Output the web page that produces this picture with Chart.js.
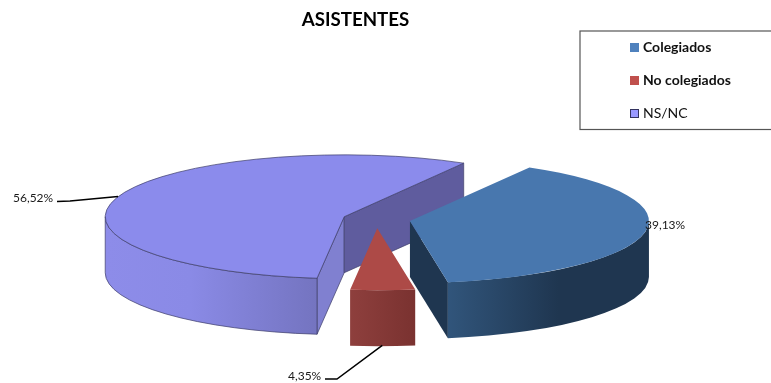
<!DOCTYPE html>
<html>
<head>
<meta charset="utf-8">
<title>ASISTENTES</title>
<style>
html, body { margin: 0; padding: 0; background: #fff; overflow: hidden; }
canvas { display: block; }
</style>
<script src="https://cdn.jsdelivr.net/npm/chart.js@4"></script>
</head>
<body>
<canvas id="chart" width="771" height="383"></canvas>
<script>
const chartTitle = 'ASISTENTES';
const categories = ['Colegiados', 'No colegiados', 'NS/NC'];
const shares = [39.13, 4.35, 56.52];

const topColors = ['#4877ae', '#ad4a47', '#8b8bec'];
const cutColors = ['#1f3650', '#7a3230', '#5f5c9e'];
const cutColorsStart = ['#1f3650', '#7a3230', '#8080d0'];
const wallStops = [
	[[0, '#31557b'], [0.55, '#1f3650'], [1, '#1f3650']],
	[[0, '#8e3f3d'], [1, '#7a3230']],
	[[0, '#8d8ce9'], [0.4, '#8a8ae6'], [1, '#7474c0']],
];
const legendColors = ['#4f81bd', '#c0504d', '#9999ff'];
const outlineColors = [null, null, '#3d3d68'];

const TILT = 0.259;      // ellipse height / width
const DEPTH = 56;        // height of the extruded wall
const EXPLODE = 34;      // how far each slice is pulled out
const FONT = 'Lato, "Noto Sans", sans-serif';

const fmt = v => v.toFixed(2).replace('.', ',') + '%';

function sliceCenter(arc) {
	const mid = (arc.startAngle + arc.endAngle) / 2;
	return {
		x: arc.x + Math.cos(mid) * EXPLODE,
		y: arc.y + Math.sin(mid) * EXPLODE * TILT,
	};
}

function wallPath(ctx, c, r, from, to) {
	ctx.beginPath();
	ctx.ellipse(c.x, c.y, r, r * TILT, 0, from, to);
	ctx.ellipse(c.x, c.y + DEPTH, r, r * TILT, 0, to, from, true);
	ctx.closePath();
}

function cutPath(ctx, c, r, angle) {
	const ex = c.x + Math.cos(angle) * r;
	const ey = c.y + Math.sin(angle) * r * TILT;
	ctx.beginPath();
	ctx.moveTo(c.x, c.y);
	ctx.lineTo(ex, ey);
	ctx.lineTo(ex, ey + DEPTH);
	ctx.lineTo(c.x, c.y + DEPTH);
	ctx.closePath();
}

function paintShape(ctx, fill, outline) {
	ctx.fillStyle = fill;
	ctx.fill();
	if (outline) {
		ctx.strokeStyle = outline;
		ctx.lineWidth = 0.7;
		ctx.stroke();
	}
}

function drawSlice(chart, arc, i) {
	const ctx = chart.ctx;
	const c = sliceCenter(arc);
	const r = arc.outerRadius;
	const a0 = arc.startAngle;
	const a1 = arc.endAngle;
	const outline = outlineColors[i];

	// flat cut faces, only those turned towards the viewer
	if (-Math.cos(a0) > 0) {
		cutPath(ctx, c, r, a0);
		paintShape(ctx, cutColorsStart[i], outline);
	}
	if (Math.cos(a1) > 0) {
		cutPath(ctx, c, r, a1);
		paintShape(ctx, cutColors[i], outline);
	}

	// outer wall: the part of the rim that lies on the front half
	const from = Math.max(a0, 0);
	const to = Math.min(a1, Math.PI);
	if (to > from) {
		const x0 = c.x + Math.cos(to) * r;
		const x1 = c.x + Math.cos(from) * r;
		const grad = ctx.createLinearGradient(x0 < x1 ? x0 : x1, 0, x0 < x1 ? x1 : x0, 0);
		wallStops[i].forEach(s => grad.addColorStop(s[0], s[1]));
		wallPath(ctx, c, r, from, to);
		paintShape(ctx, grad, outline);
	}

	// top face goes through the library's own arc element, squashed
	ctx.save();
	ctx.translate(c.x, c.y);
	ctx.scale(1, TILT);
	ctx.translate(-arc.x, -arc.y);
	arc.draw(ctx);
	ctx.restore();

	if (outline) {
		ctx.beginPath();
		ctx.moveTo(c.x, c.y);
		ctx.ellipse(c.x, c.y, r, r * TILT, 0, a0, a1);
		ctx.closePath();
		ctx.strokeStyle = outline;
		ctx.lineWidth = 0.7;
		ctx.stroke();
	}
}

function polyline(ctx, pts) {
	ctx.beginPath();
	pts.forEach((p, i) => i ? ctx.lineTo(p[0], p[1]) : ctx.moveTo(p[0], p[1]));
	ctx.strokeStyle = '#000';
	ctx.lineWidth = 1.5;
	ctx.stroke();
}

function drawLabels(ctx, arcs) {
	ctx.font = '12px ' + FONT;
	ctx.fillStyle = '#1a1a1a';
	ctx.textBaseline = 'middle';
	ctx.textAlign = 'left';

	ctx.fillText(fmt(shares[0]), 645, 225);

	const red = sliceCenter(arcs[1]);
	polyline(ctx, [[325, 379], [337, 379], [red.x + 5, red.y + 62 + DEPTH - 1]]);
	ctx.fillText(fmt(shares[1]), 288, 376);

	polyline(ctx, [[57, 201.5], [70, 201], [118, 196.5]]);
	ctx.fillText(fmt(shares[2]), 13, 198);
}

function drawLegend(ctx) {
	ctx.strokeStyle = '#555';
	ctx.lineWidth = 1.2;
	ctx.strokeRect(580, 31, 200, 98.5);
	ctx.textBaseline = 'middle';
	ctx.textAlign = 'left';
	categories.forEach((name, i) => {
		const y = 47.5 + i * 33;
		ctx.fillStyle = legendColors[i];
		ctx.fillRect(630, y - 4.5, 9, 9);
		if (i === 2) {
			ctx.strokeStyle = '#33335f';
			ctx.lineWidth = 1;
			ctx.strokeRect(630.5, y - 4, 8, 8);
		}
		ctx.fillStyle = '#111';
		ctx.font = (i < 2 ? 'bold ' : '') + '14px ' + FONT;
		ctx.fillText(name, 643, y);
	});
}

const pie3d = {
	id: 'pie3d',
	beforeDatasetsDraw(chart) {
		const arcs = chart.getDatasetMeta(0).data;
		// back to front
		[2, 0, 1].forEach(i => drawSlice(chart, arcs[i], i));
		return false;
	},
	afterDraw(chart) {
		const ctx = chart.ctx;
		drawLabels(ctx, chart.getDatasetMeta(0).data);
		drawLegend(ctx);
		ctx.fillStyle = '#000';
		ctx.font = 'bold 18.7px ' + FONT;
		ctx.textAlign = 'center';
		ctx.textBaseline = 'middle';
		ctx.fillText(chartTitle, 355.5, 20);
	},
};

new Chart(document.getElementById('chart').getContext('2d'), {
	type: 'pie',
	data: {
		labels: categories,
		datasets: [{
			data: shares,
			backgroundColor: topColors,
			borderWidth: 0,
		}],
	},
	options: {
		responsive: false,
		animation: false,
		events: [],
		rotation: 30,
		radius: 239,
		layout: { padding: { top: 56, right: 18, bottom: 0, left: 0 } },
		plugins: {
			legend: { display: false },
			title: { display: false },
			tooltip: { enabled: false },
		},
	},
	plugins: [pie3d],
});
</script>
</body>
</html>
